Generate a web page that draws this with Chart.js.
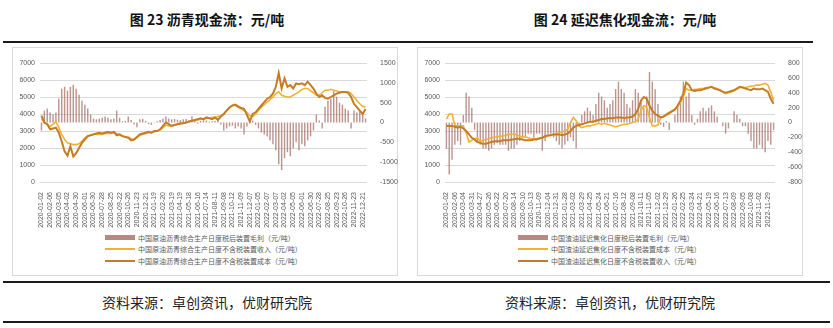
<!DOCTYPE html>
<html>
<head>
<meta charset="utf-8">
<script src="https://cdn.jsdelivr.net/npm/chart.js@4.4.0/dist/chart.umd.min.js"></script>
<style>
body { margin: 0; width: 833px; height: 328px; background: #fff; position: relative; overflow: hidden; font-family: "Noto Sans CJK SC", sans-serif; }
.rule { position: absolute; height: 2px; background: #1a1a1a; }
.title { position: absolute; top: 9px; width: 300px; text-align: center; font-size: 14px; font-weight: bold; color: #111; line-height: 20px; }
.source { position: absolute; top: 292px; width: 300px; text-align: center; font-size: 14px; color: #222; line-height: 20px; }
.box { position: absolute; top: 47px; width: 386px; height: 229px; border: 1px solid #d9d9d9; box-sizing: border-box; }
canvas { position: absolute; top: 48px; }
.leg { position: absolute; font-size: 7px; color: #595959; line-height: 10px; white-space: nowrap; }
.leg i { position: absolute; left: -33px; width: 30px; }
</style>
</head>
<body>

<div class="rule" style="left:3px; top:41px; width:810px;"></div>
<div class="title" style="left:57px;">图 23 沥青现金流：元/吨</div>
<div class="title" style="left:475px;">图 24 延迟焦化现金流：元/吨</div>

<div class="box" style="left:12px;"></div>
<div class="box" style="left:417px;"></div>
<canvas id="asphalt" width="385" height="180" style="left:13px;"></canvas>
<canvas id="coking" width="385" height="180" style="left:418px;"></canvas>

<div class="leg" style="left:138px; top:233px;"><i style="top:2px; height:5px; background:#b48a83;"></i>中国原油沥青综合生产日度税后装置毛利（元/吨）</div>
<div class="leg" style="left:138px; top:244px;"><i style="top:4px; height:1.5px; background:#f2b134;"></i>中国原油沥青综合生产日度不含税装置收入（元/吨）</div>
<div class="leg" style="left:138px; top:256px;"><i style="top:4px; height:2px; background:#c47c26;"></i>中国原油沥青综合生产日度不含税装置成本（元/吨）</div>

<div class="leg" style="left:551px; top:233px;"><i style="top:2px; height:5px; background:#b48a83;"></i>中国渣油延迟焦化日度税后装置毛利（元/吨）</div>
<div class="leg" style="left:551px; top:244px;"><i style="top:4px; height:1.5px; background:#f2b134;"></i>中国渣油延迟焦化日度不含税装置成本（元/吨）</div>
<div class="leg" style="left:551px; top:256px;"><i style="top:4px; height:2px; background:#c47c26;"></i>中国渣油延迟焦化日度不含税装置收入（元/吨）</div>

<div class="rule" style="left:3px; top:281px; width:827px;"></div>
<div class="source" style="left:57px;">资料来源：卓创资讯，优财研究院</div>
<div class="source" style="left:460px;">资料来源：卓创资讯，优财研究院</div>
<div class="rule" style="left:3px; top:321px; width:827px;"></div>

<script>
// tick labels printed under each chart (one every 3 points)
const asphaltTicks = ['2020-01-02','2020-02-06','2020-03-05','2020-04-02','2020-04-30','2020-06-01','2020-06-30','2020-07-28','2020-08-25','2020-09-22','2020-10-26','2020-11-23','2020-12-21',
    '2021-01-19','2021-02-20','2021-03-19','2021-04-19','2021-05-18','2021-06-16','2021-07-14','2021-08-11','2021-09-08','2021-10-12','2021-11-09','2021-12-07',
    '2022-01-05','2022-02-07','2022-03-07','2022-04-02','2022-05-05','2022-06-01','2022-06-30','2022-07-28','2022-08-25','2022-09-23','2022-10-26','2022-11-23','2022-12-21'];

const asphaltMargin = [-200,300,350,250,200,250,600,850,900,800,
    900,950,850,700,550,450,350,200,100,80,
    100,120,150,120,80,100,300,120,30,40,
    150,60,-50,-120,80,90,40,-40,-60,10,
    30,60,100,150,100,80,90,70,60,80,
    90,60,160,50,-30,40,60,50,20,30,
    40,80,-50,-200,-150,-100,-80,-150,-100,-150,
    -300,-100,100,50,-60,-150,-250,-300,-350,-450,
    -550,-700,-1050,-1200,-900,-750,-850,-650,-500,-700,
    -550,-600,-450,-350,-200,200,50,-150,400,550,
    600,800,650,500,450,350,300,-150,300,250,
    300,200,100];

const asphaltRevenue = [3700,3500,3400,3250,3400,3550,3200,2800,2500,2300,
    2250,2200,2200,2250,2400,2600,2700,2750,2800,2800,
    2800,2800,2850,2850,2850,2900,2850,2750,2700,2650,
    2650,2550,2500,2600,2750,2800,2850,2900,2900,2950,
    3000,3050,3200,3350,3300,3300,3350,3400,3400,3450,
    3500,3550,3600,3600,3650,3700,3700,3750,3750,3800,
    3800,3850,3900,4000,4200,4350,4500,4500,4400,4300,
    4200,4100,3900,3850,4000,4200,4400,4550,4700,4850,
    5000,5200,5300,5100,5050,5000,5000,5100,5200,5300,
    5450,5500,5500,5350,5250,5100,5100,5250,5400,5400,
    5450,5400,5350,5300,5300,5300,5300,5200,5000,4800,
    4600,4450,4400];

const asphaltCost = [3900,3500,3400,3100,3150,3200,2900,2400,1800,1550,
    2100,1500,1700,2000,2300,2500,2700,2750,2800,2850,
    2900,2850,2900,2950,2900,2950,2750,2800,2700,2650,
    2600,2450,2500,2650,2800,2850,2900,2950,2900,3000,
    3000,3100,3300,3500,3400,3300,3350,3400,3450,3450,
    3500,3550,3600,3650,3700,3750,3700,3800,3750,3700,
    3800,3650,3850,4000,4200,4400,4500,4550,4450,4350,
    4300,3950,3550,4000,4100,4300,4500,4700,4900,5000,
    5200,5600,6400,5500,6100,5600,5700,5500,5800,5750,
    5800,5700,5900,5700,5500,5200,5000,5100,4950,4900,
    5000,5100,5200,5250,5300,5300,5250,5000,4600,4400,
    4200,4000,4300];

const cokingTicks = ['2020-01-02','2020-02-06','2020-03-04','2020-03-31','2020-04-27','2020-05-26','2020-06-22','2020-07-20','2020-08-14','2020-09-10','2020-10-13','2020-11-09','2020-12-04','2020-12-31',
    '2021-01-28','2021-03-02','2021-03-29','2021-04-25','2021-05-24','2021-06-21','2021-07-16','2021-08-12','2021-09-08','2021-10-11','2021-11-05','2021-12-02','2021-12-29',
    '2022-01-26','2022-02-25','2022-03-24','2022-04-21','2022-05-19','2022-06-16','2022-07-13','2022-08-09','2022-09-05','2022-10-08','2022-11-02','2022-11-29'];

const cokingMargin = [-350,-700,-500,-300,-250,-300,100,400,350,200,
    -100,-250,-300,-350,-350,-380,-350,-300,-280,-300,
    -300,-300,-380,-350,-350,-300,-250,-200,-200,-150,
    -150,-200,-150,-150,-380,-250,-150,-150,-200,-250,
    -300,-350,-300,-250,-200,-250,-350,-50,100,150,
    200,150,100,250,400,350,300,200,250,300,
    450,550,450,400,250,200,300,450,400,300,
    200,350,680,550,450,250,-30,-60,20,-100,
    0,100,250,350,550,350,400,100,-30,50,
    150,200,150,200,230,150,80,0,-50,-150,
    -80,0,150,100,50,-50,-50,-150,-250,-350,
    -350,-300,-350,-400,-250,-300,-100];

const cokingCost = [3700,4000,4000,3300,3300,3300,3300,2900,2350,2450,
    2550,2600,2400,2450,2500,2550,2600,2650,2650,2700,
    2700,2750,2800,2800,2850,2750,2700,2650,2650,2600,
    2550,2550,2550,2600,2600,2650,2700,2750,2800,2850,
    2900,2950,3000,3100,3500,3800,3600,3300,3200,3250,
    3300,3300,3350,3400,3450,3400,3450,3400,3350,3300,
    3250,3300,3350,3400,3400,3450,3500,3550,3700,4200,
    4500,4400,3800,3300,3300,3350,3800,3850,4000,4100,
    4200,4300,4450,4700,5000,5500,5400,5400,5450,5450,
    5500,5500,5550,5550,5600,5550,5500,5400,5300,5200,
    5250,5300,5350,5450,5550,5600,5550,5600,5650,5650,
    5700,5700,5750,5800,5700,5300,4800];

const cokingRevenue = [3300,3300,3300,3250,3200,3250,3150,3000,2800,2600,
    2500,2350,2300,2250,2250,2300,2350,2400,2400,2400,
    2450,2450,2450,2500,2500,2550,2550,2500,2450,2450,
    2450,2500,2500,2550,2600,2700,2750,2750,2800,2800,
    2800,2750,2800,2850,3000,3200,3300,3350,3400,3450,
    3500,3550,3550,3600,3650,3700,3700,3750,3750,3750,
    3800,3800,3800,3750,3800,3800,3850,4000,4300,4800,
    5000,4900,4500,4200,4000,3900,3800,3850,3950,4050,
    4150,4250,4500,4800,5200,5850,5700,5400,5350,5400,
    5400,5450,5500,5550,5600,5500,5450,5400,5300,5250,
    5300,5350,5400,5500,5600,5550,5500,5450,5400,5500,
    5450,5450,5500,5400,5300,4900,4600];

const LIGHT = '#f2b134';
const DARK = '#c47c26';
const BAR = 'rgba(160,104,96,0.7)';
const TICK_FONT = { family: 'Liberation Sans', size: 7 };

function plainNumber(v) {
    return String(v);
}

function drawCashflow(canvasId, ticks, margin, light, dark, rightMin, rightMax, rightStep, rightWidth) {
    // one date label every 3 points
    let labels = margin.map(function (v, i) {
        return (i % 3 === 0 && ticks[i / 3]) ? ticks[i / 3] : '';
    });
    return new Chart(document.getElementById(canvasId), {
        type: 'bar',
        data: {
            labels: labels,
            datasets: [
                {
                    type: 'line',
                    data: dark,
                    yAxisID: 'y',
                    borderColor: DARK,
                    borderWidth: 2,
                    pointRadius: 0,
                    tension: 0,
                    order: 1,
                },
                {
                    type: 'line',
                    data: light,
                    yAxisID: 'y',
                    borderColor: LIGHT,
                    borderWidth: 1.6,
                    pointRadius: 0,
                    tension: 0,
                    order: 2,
                },
                {
                    type: 'bar',
                    data: margin,
                    yAxisID: 'y1',
                    backgroundColor: BAR,
                    barPercentage: 0.5,
                    categoryPercentage: 1,
                    order: 3,
                },
            ],
        },
        options: {
            responsive: false,
            animation: false,
            layout: { padding: { top: 15, left: 0, right: 0, bottom: 0 } },
            plugins: { legend: { display: false }, tooltip: { enabled: false } },
            scales: {
                x: {
                    grid: { display: false },
                    border: { display: false },
                    afterFit: function (s) { s.height = 46; },
                    ticks: {
                        autoSkip: false,
                        maxRotation: 90,
                        minRotation: 90,
                        padding: 2,
                        color: '#595959',
                        font: TICK_FONT,
                    },
                },
                y: {
                    position: 'left',
                    min: 0,
                    max: 7000,
                    afterFit: function (s) { s.width = 27; },
                    grid: { color: '#d9d9d9', drawTicks: false },
                    border: { display: false },
                    ticks: { stepSize: 1000, padding: 5, color: '#595959', font: TICK_FONT, callback: plainNumber },
                },
                y1: {
                    position: 'right',
                    min: rightMin,
                    max: rightMax,
                    afterFit: function (s) { s.width = rightWidth; },
                    grid: { display: false },
                    border: { display: false },
                    ticks: { stepSize: rightStep, padding: 5, color: '#595959', font: TICK_FONT, callback: plainNumber },
                },
            },
        },
    });
}

drawCashflow('asphalt', asphaltTicks, asphaltMargin, asphaltRevenue, asphaltCost, -1500, 1500, 500, 31);
drawCashflow('coking', cokingTicks, cokingMargin, cokingCost, cokingRevenue, -800, 800, 200, 28);
</script>
</body>
</html>
